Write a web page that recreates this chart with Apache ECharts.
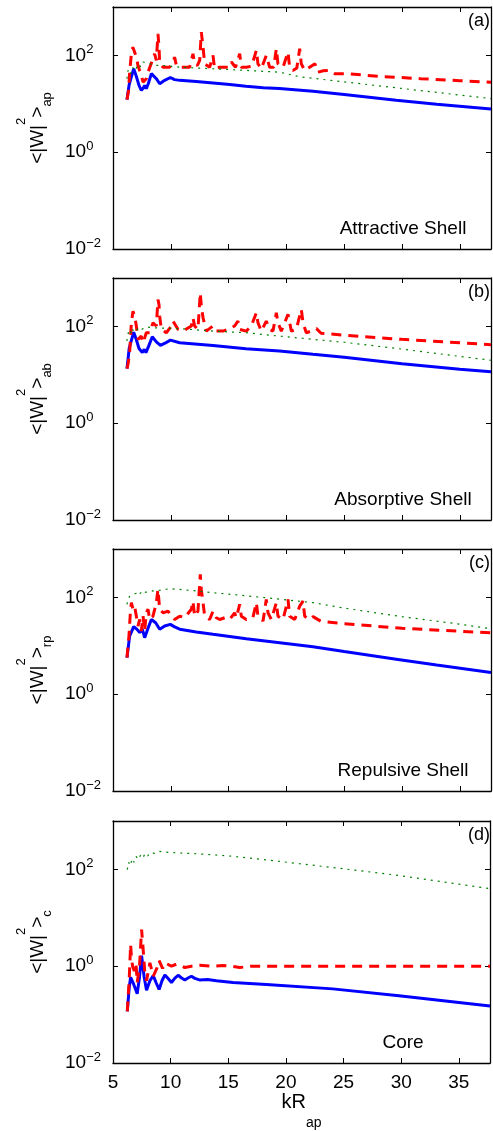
<!DOCTYPE html>
<html>
<head>
<meta charset="utf-8">
<script src="https://cdn.jsdelivr.net/npm/echarts@6/dist/echarts.min.js"></script>
<style>
html, body { margin: 0; padding: 0; background: #fff; }
#chart { width: 493px; height: 1131px; }
</style>
</head>
<body>
<div id="chart"></div>
<script>
// values, [kR, <|W|^2>]
var blueA = [[6.21,12.2],[6.4,25],[6.59,36],[6.79,53],[7.0,38],[7.25,24],[7.45,19],[7.6,21],[7.74,24],[7.88,20.6],[8.05,26],[8.32,42],[8.75,33],[9.04,26],[9.47,30.5],[9.96,35],[10.33,31.6],[10.77,30.5],[12.2,29],[13.65,27],[15.1,25],[16.5,23],[18.0,21.5],[19.4,20.6],[22.3,18.1],[25,15.5],[29.5,11.8],[33,9.8],[37.7,7.8]];
var redA = [[6.21,12.2],[6.35,19],[6.44,45],[6.59,108],[6.72,148],[6.87,137],[7.02,92],[7.16,62],[7.3,49],[7.45,39],[7.6,28],[7.74,28],[7.88,33],[8.03,45],[8.3,67],[8.6,108],[8.75,79],[8.89,280],[8.98,148],[9.04,67],[9.33,57],[9.61,57],[9.9,57],[10.19,73],[10.33,92],[10.48,62],[10.77,57],[11.2,57],[11.63,57],[11.92,108],[12.06,67],[12.3,62],[12.5,79],[12.64,303],[12.79,148],[12.93,67],[13.36,57],[13.65,100],[13.79,53],[14.23,57],[15.09,57],[15.24,73],[15.6,57],[15.96,108],[16.1,57],[16.53,57],[17.0,60],[17.4,127],[17.54,67],[17.83,53],[18.26,100],[18.55,57],[18.9,57],[19.13,137],[19.27,67],[19.71,57],[20.14,117],[20.28,57],[20.57,49],[20.9,55],[21.15,137],[21.29,67],[21.58,49],[22.01,57],[22.47,67],[22.7,45],[23.2,48],[23.77,49],[24.2,42],[25.2,42],[28,37],[31.6,33],[35,30],[37.7,28]];
var greenA = [[6.2,33],[6.3,49],[6.5,40],[6.7,57],[6.9,48],[7.2,67],[7.4,58],[7.6,73],[8.2,67],[8.75,62],[9.3,62],[10.8,57],[13.6,53],[16.5,49],[19.4,45],[21.2,36],[25,28.4],[29.5,21.4],[33,17.2],[37.7,12.8]];

var blueB = [[6.21,13.4],[6.4,35],[6.79,76],[7.0,55],[7.25,35],[7.54,28.7],[7.7,33.6],[7.85,28.7],[8.1,40],[8.4,61],[8.75,48],[9.1,40.6],[9.5,45],[9.96,52],[10.77,46],[13.65,40.5],[16.5,34.7],[19.4,31],[22.3,26.5],[25,23],[30,17],[35,13],[37.7,11.5]];
var redB = [[6.21,13.4],[6.3,16.5],[6.44,28.7],[6.59,119],[6.73,207],[6.87,163],[7.02,102],[7.16,54],[7.45,63],[7.6,46],[7.74,58],[7.88,74],[8.17,74],[8.46,119],[8.75,102],[8.89,360],[8.98,284],[9.04,163],[9.18,87],[9.61,74],[10.05,102],[10.19,129],[10.33,119],[10.62,87],[11.06,80],[11.78,102],[11.92,151],[12.06,102],[12.35,87],[12.55,494],[12.64,262],[12.79,151],[13.07,80],[13.65,102],[13.94,80],[14.52,80],[14.95,87],[15.52,102],[15.81,129],[15.96,87],[16.53,80],[16.97,102],[17.4,191],[17.54,119],[17.83,80],[18.26,129],[18.55,87],[18.84,80],[19.13,191],[19.27,119],[19.56,80],[20.14,177],[20.43,80],[20.86,87],[21.29,224],[21.44,119],[21.72,74],[22.16,80],[22.6,90],[23.0,72],[25,66],[30,54],[35,46],[37.7,42]];
var greenB = [[6.2,50],[6.35,80],[6.5,70],[6.65,93],[6.8,75],[7.0,80],[7.2,93],[7.4,85],[7.9,97],[8.75,93],[10.8,90],[13.65,80],[16.5,74],[19.4,63],[22.3,54],[25,47],[30,34],[35,24],[37.7,20]];

var blueC = [[6.21,5.7],[6.44,15.9],[6.79,24.8],[7.08,21.9],[7.31,18.7],[7.54,21.9],[7.74,14.7],[8.03,23],[8.32,35],[8.69,30],[9.04,22],[9.47,25.6],[9.96,27.7],[10.33,24.6],[10.77,22],[12.2,19.3],[13.65,17.3],[16.53,14],[19.42,11.6],[22.3,9.6],[25,7.6],[29.5,5.3],[33,4.0],[37.7,2.8]];
var redC = [[6.21,5.7],[6.38,15.9],[6.5,48],[6.59,78],[6.73,57],[6.87,66],[7.02,41],[7.16,25.6],[7.31,35],[7.45,20.2],[7.6,41],[7.74,20.2],[7.88,48],[8.03,57],[8.17,35],[8.46,41],[8.75,78],[8.89,146],[9.04,57],[9.33,48],[9.76,52],[10.05,41],[10.33,35],[10.77,41],[11.2,38],[11.78,57],[11.92,84],[12.06,41],[12.35,52],[12.55,298],[12.64,146],[12.79,78],[12.93,41],[13.36,35],[13.65,52],[13.94,38],[14.23,35],[14.66,38],[15.09,35],[15.52,48],[15.67,38],[15.96,72],[16.1,41],[16.53,35],[17.1,38],[17.4,78],[17.54,41],[17.98,32.5],[18.26,91],[18.41,48],[18.7,35],[19.13,78],[19.27,41],[19.71,35],[20.14,91],[20.28,41],[20.72,35],[21.15,66],[21.44,84],[21.58,41],[22.01,35],[22.3,40],[23,32],[25,28.7],[30,23],[35,20],[37.7,18.6]];
var greenC = [[6.21,72],[6.3,90],[6.44,106],[6.6,100],[6.8,118],[7.02,121],[7.2,110],[7.4,125],[7.6,115],[7.8,128],[8.03,129],[8.46,136],[9.04,141],[9.9,151],[10.77,146],[12.2,136],[13.65,125],[16.53,108],[19.42,92],[22.3,78],[25,60],[30,40],[35,28],[37.7,22.6]];

var blueD = [[6.24,0.117],[6.4,0.35],[6.53,0.59],[6.8,0.42],[7.1,0.27],[7.3,0.6],[7.48,1.65],[7.7,0.6],[7.91,0.32],[8.2,0.5],[8.49,0.64],[8.75,0.45],[9.0,0.33],[9.25,0.5],[9.5,0.66],[9.8,0.55],[10.07,0.46],[10.35,0.56],[10.65,0.65],[10.95,0.57],[11.23,0.52],[11.5,0.57],[11.8,0.62],[12.1,0.56],[12.5,0.52],[13.2,0.53],[13.97,0.5],[15.4,0.46],[18.3,0.42],[24.06,0.34],[29.8,0.245],[37.7,0.15]];
var redD = [[6.24,0.117],[6.4,0.5],[6.53,2.8],[6.6,1.5],[6.7,1.0],[6.85,0.8],[7.0,1.1],[7.1,0.46],[7.3,1.0],[7.48,5.7],[7.6,2.5],[7.75,0.8],[7.91,0.5],[8.2,1.17],[8.49,0.62],[8.8,0.9],[9.0,1.3],[9.3,0.9],[9.5,1.17],[10.07,1.0],[10.5,1.1],[11.23,0.94],[11.8,1.0],[12.5,1.05],[13.5,1.0],[14.5,1.03],[15.3,1.0],[16.0,0.94],[17,1.0],[20,1.0],[25,1.0],[30,1.0],[37.7,1.0]];
var greenD = [[6.24,99],[6.35,140],[6.5,120],[6.65,165],[6.8,140],[7.0,185],[7.2,160],[7.4,200],[7.6,175],[7.8,215],[8.0,190],[8.3,225],[8.6,215],[9.0,236],[9.5,228],[10.5,220],[12.5,209],[15,190],[18,160],[21.2,131],[25,103],[29.8,75],[33,58],[37.7,40]];

var blueSets = [blueA, blueB, blueC, blueD];
var redSets = [redA, redB, redC, redD];
var greenSets = [greenA, greenB, greenC, greenD];

var subNames = ['ap', 'ab', 'rp', 'c'];
var panelTags = ['(a)', '(b)', '(c)', '(d)'];
var panelTitles = ['Attractive Shell', 'Absorptive Shell', 'Repulsive Shell', 'Core'];
var yTickExp = [-2, 0, 2];
var xTickVals = [5, 10, 15, 20, 25, 30, 35];

var font = 'Liberation Sans, Arial, Helvetica, sans-serif';
var gridTop = [7, 278, 549, 821];
var gridH = 242;
var xMin = 5, xMax = 37.7;

function yLabel(v) {
    var e = Math.round(Math.log10(v));
    if (yTickExp.indexOf(e) < 0) return '';
    return '{b|10}{s|' + (e < 0 ? '\u2212' : '') + Math.abs(e) + '}';
}

function xLabel(v) {
    return xTickVals.indexOf(Math.round(v * 100) / 100) >= 0 ? String(v) : '';
}

var axisLine = {show: true, onZero: false, lineStyle: {color: '#000', width: 1.3}};
var axisTick = {show: true, inside: true, length: 5, lineStyle: {color: '#000', width: 1}};

var grids = [], xAxes = [], yAxes = [], series = [], graphics = [];

for (var i = 0; i < 4; i++) {
    grids.push({left: 113, right: 2, top: gridTop[i], height: gridH});

    var last = (i === 3);
    xAxes.push({
        type: 'value', gridIndex: i, position: 'bottom', min: xMin, max: xMax, interval: 5,
        axisLine: axisLine, axisTick: axisTick, splitLine: {show: false},
        axisLabel: {show: last, formatter: xLabel, margin: 10, color: '#000', fontSize: 19, fontFamily: font},
        name: last ? '{m|kR}{sub|ap}' : '', nameLocation: 'middle', nameGap: 10,
        nameTextStyle: {color: '#000', fontFamily: font, rich: {
            m: {fontSize: 20, fontFamily: font, color: '#000'},
            sub: {fontSize: 14, fontFamily: font, color: '#000', padding: [40, 0, 0, 0]}
        }}
    });
    xAxes.push({
        type: 'value', gridIndex: i, position: 'top', min: xMin, max: xMax, interval: 5,
        axisLine: axisLine, axisTick: axisTick, splitLine: {show: false}, axisLabel: {show: false}
    });

    yAxes.push({
        type: 'log', logBase: 10, gridIndex: i, position: 'left', min: 0.01, max: 1000, interval: 2,
        axisLine: axisLine, axisTick: axisTick, splitLine: {show: false}, minorTick: {show: false},
        axisLabel: {formatter: yLabel, margin: 48, align: 'left', color: '#000', rich: {
            b: {fontSize: 19, fontFamily: font, color: '#000'},
            s: {fontSize: 13, fontFamily: font, color: '#000', padding: [0, 0, 12, 0]}
        }},
        name: '{m|<|W|}{sup|2}{m|>}{sub|' + subNames[i] + '}', nameLocation: 'middle', nameGap: 53, nameRotate: 90,
        nameTextStyle: {color: '#000', fontFamily: font, rich: {
            m: {fontSize: 19, fontFamily: font, color: '#000'},
            sup: {fontSize: 13, fontFamily: font, color: '#000', padding: [0, 0, 32, 0]},
            sub: {fontSize: 13, fontFamily: font, color: '#000', padding: [20, 0, 0, 0]}
        }}
    });
    yAxes.push({
        type: 'log', logBase: 10, gridIndex: i, position: 'right', min: 0.01, max: 1000, interval: 2,
        axisLine: axisLine, axisTick: axisTick, splitLine: {show: false}, axisLabel: {show: false}
    });

    series.push({
        type: 'line', xAxisIndex: 2 * i, yAxisIndex: 2 * i, data: blueSets[i],
        showSymbol: false, symbol: 'none', clip: true,
        lineStyle: {color: '#0000ff', width: 3}
    });
    series.push({
        type: 'line', xAxisIndex: 2 * i, yAxisIndex: 2 * i, data: redSets[i],
        showSymbol: false, symbol: 'none', clip: true,
        lineStyle: {color: '#ff0000', width: 3, type: [10, 7]}
    });
    series.push({
        type: 'line', xAxisIndex: 2 * i, yAxisIndex: 2 * i, data: greenSets[i],
        showSymbol: false, symbol: 'none', clip: true,
        lineStyle: {color: '#008000', width: 1.2, type: [2, 5]}
    });

    graphics.push({
        type: 'text', left: null, x: 490, y: gridTop[i] + 14,
        style: {text: panelTags[i], fill: '#000', font: '18px ' + font, textAlign: 'right', textVerticalAlign: 'middle'}
    });
    graphics.push({
        type: 'text', x: 403, y: gridTop[i] + gridH - 20,
        style: {text: panelTitles[i], fill: '#000', font: '19px ' + font, textAlign: 'center', textVerticalAlign: 'middle'}
    });
}

var myChart = echarts.init(document.getElementById('chart'), null, {renderer: 'canvas'});
myChart.setOption({
    animation: false,
    backgroundColor: '#fff',
    grid: grids,
    xAxis: xAxes,
    yAxis: yAxes,
    series: series,
    graphic: graphics
});
</script>
</body>
</html>
